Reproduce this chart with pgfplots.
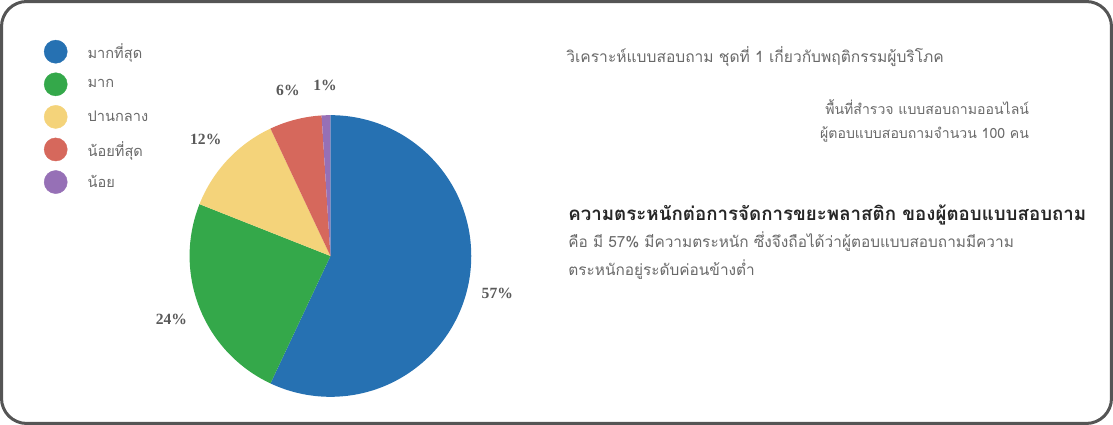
\documentclass[border=0pt]{standalone}
\usepackage{pgfplots}
\pgfplotsset{compat=1.18}
\usepackage{pgfplotstable}
\usepackage{fontspec}
\setmainfont{Liberation Serif}
\newfontfamily\thai[Script=Thai]{Loma}

\definecolor{c0}{RGB}{38,113,178}
\definecolor{c1}{RGB}{52,168,74}
\definecolor{c2}{RGB}{244,211,122}
\definecolor{c3}{RGB}{214,104,92}
\definecolor{c4}{RGB}{150,112,182}
\definecolor{frame}{RGB}{85,85,85}
\definecolor{txtgray}{RGB}{105,105,105}
\tikzset{pct/.style={font=\bfseries\fontsize{15.5}{17}\selectfont, text=black!65}}

% share (%) of answers, clockwise from 12 o'clock
\pgfplotstableread{
idx value
0 57
1 24
2 12
3 6
4 1
}\piedata

\begin{document}
\begin{tikzpicture}
\begin{axis}[
  scale only axis, width=1113pt, height=430pt,
  xmin=0, xmax=1113, ymin=0, ymax=430,
  hide axis, clip=false,
  legend style={draw=none, fill=none, at={(axis cs:44,389)}, anchor=north west,
    font=\thai\fontsize{14.5}{16}\selectfont, text=txtgray, row sep=9pt, column sep=18pt},
  legend cell align=left,
  legend image code/.code={\fill (12pt,0pt) circle (11.5pt);},
]
\addlegendimage{c0}\addlegendentry{มากที่สุด}
\addlegendimage{c1}\addlegendentry{มาก}
\addlegendimage{c2}\addlegendentry{ปานกลาง}
\addlegendimage{c3}\addlegendentry{น้อยที่สุด}
\addlegendimage{c4}\addlegendentry{น้อย}

\def\cum{0}
\pgfplotsforeachungrouped \i in {0,...,4}{%
  \pgfplotstablegetelem{\i}{value}\of\piedata
  \let\v\pgfplotsretval
  \pgfmathsetmacro\aS{90-3.6*\cum}%
  \pgfmathsetmacro\aE{90-3.6*(\cum+\v)}%
  \pgfmathsetmacro\aM{(\aS+\aE)/2}%
  \edef\temp{%
    \noexpand\fill[c\i] (axis cs:332,172) -- ([shift={(\aS:140pt)}]axis cs:332,172)
      arc[start angle=\aS, end angle=\aE, radius=140pt] -- cycle;
    \noexpand\node[pct] at ([shift={(\aM:170pt)}]axis cs:332,172) {\v\noexpand\%};
  }%
  \temp
  \pgfmathsetmacro\cum{\cum+\v}%
}

\draw[line width=3pt, color=frame, rounded corners=25pt]
  (axis cs:5,5.5) rectangle (axis cs:1108.5,425);

\node[anchor=west, text=txtgray, font=\thai\fontsize{15.5}{18}\selectfont]
  at (axis cs:563,370) {วิเคราะห์แบบสอบถาม ชุดที่ 1 เกี่ยวกับพฤติกรรมผู้บริโภค};
\node[anchor=east, text=txtgray, font=\thai\fontsize{14}{16}\selectfont]
  at (axis cs:1030,320) {พื้นที่สำรวจ แบบสอบถามออนไลน์};
\node[anchor=east, text=txtgray, font=\thai\fontsize{14}{16}\selectfont]
  at (axis cs:1030,293) {ผู้ตอบแบบสอบถามจำนวน 100 คน};
\node[anchor=west, text=black!85, font=\thai\bfseries\fontsize{18.6}{21}\selectfont]
  at (axis cs:565,213) {ความตระหนักต่อการจัดการขยะพลาสติก ของผู้ตอบแบบสอบถาม};
\node[anchor=west, text=txtgray, font=\thai\fontsize{15.3}{18}\selectfont]
  at (axis cs:565,186) {คือ มี 57\% มีความตระหนัก ซึ่งจึงถือได้ว่าผู้ตอบแบบสอบถามมีความ};
\node[anchor=west, text=txtgray, font=\thai\fontsize{15.3}{18}\selectfont]
  at (axis cs:565,158) {ตระหนักอยู่ระดับค่อนข้างต่ำ};
\end{axis}
\end{tikzpicture}
\end{document}
